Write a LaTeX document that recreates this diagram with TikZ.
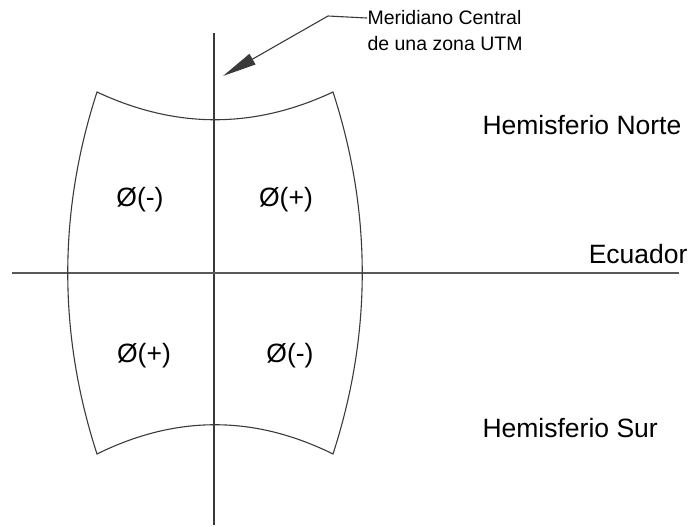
\documentclass[tikz,border=0pt]{standalone}
\usepackage{fontspec}
\setmainfont{Liberation Sans}
\usetikzlibrary{arrows.meta,positioning}
\definecolor{utm-line}{HTML}{3A3A3A}

\begin{document}
\begin{tikzpicture}[x=1pt, y=-1pt, line width=1.1pt, utm-line,
    bigtxt/.style={font=\fontsize{26.5}{31}\selectfont, text=black, inner sep=0pt},
    smalltxt/.style={font=\fontsize{19.5}{23}\selectfont, text=black, inner sep=0pt}]
    \useasboundingbox (0,0) rectangle (689,527);
    % ejes
    \coordinate (mtop) at (214,33);
    \coordinate (mbot) at (214,525);
    \coordinate (ewest) at (12,273);
    \coordinate (eeast) at (679,273);
    \draw (mtop) -- (mbot);
    \draw[black!65] (ewest) -- (eeast);
    % zona UTM
    \coordinate (tl) at (97,92);
    \coordinate (tr) at (333,92);
    \coordinate (bl) at (97,454);
    \coordinate (br) at (333,454);
    \draw (tl) .. controls (176,129) and (254,129) .. (tr)
          .. controls (372,212) and (372,334) .. (br)
          .. controls (254,415) and (176,415) .. (bl)
          .. controls (58,334) and (58,212) .. (tl) -- cycle;
    % cuadrantes
    \node[bigtxt, anchor=base] (q1) at (140,206) {Ø(-)};
    \node[bigtxt, anchor=base] (q2) at (286,206) {Ø(+)};
    \node[bigtxt, anchor=base] (q3) at (144,362) {Ø(+)};
    \node[bigtxt, anchor=base] (q4) at (290,362) {Ø(-)};
    % textos
    \node[bigtxt, anchor=base west] (hn) at (482,135) {Hemisferio Norte};
    \node[bigtxt, anchor=base west] (hs) at (482,437) {Hemisferio Sur};
    \node[bigtxt, anchor=base east] (ec) at (688,263) {Ecuador};
    \node[smalltxt, anchor=base west] (mer1) at (367,25) {Meridiano Central};
    \node[smalltxt, anchor=base west] (mer2) at (367,51) {de una zona UTM};
    % flecha
    \coordinate (bend) at (328,16);
    \coordinate (tip) at (223,76);
    \draw[-{Triangle[length=34pt,width=12pt]}] (mer1.west) -- (bend) -- (tip);
\end{tikzpicture}
\end{document}
